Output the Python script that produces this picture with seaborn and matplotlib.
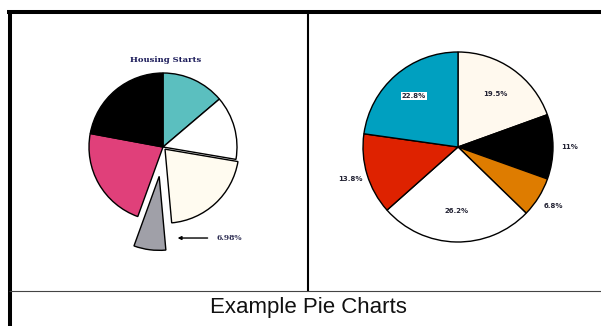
import matplotlib
matplotlib.use("Agg")
import matplotlib.pyplot as plt
import seaborn as sns
import numpy as np

# left pie: "Housing Starts" shares (%), clockwise from 12 o'clock
left_shares = [13.8, 13.9, 20.9, 6.98, 22.4, 22.1]
left_colors = ['#5bbfbf', '#ffffff', '#fffbf0', '#a0a0a8', '#e0407a', '#000000']
left_explode = [0, 0, 0.04, 0.4, 0, 0]
left_callout = '6.98%'

# right pie
right_shares = [19.5, 11, 6.8, 26.2, 13.8, 22.8]
right_labels = ['19.5%', '11%', '6.8%', '26.2%', '13.8%', '22.8%']
right_colors = ['#fff9ee', '#000000', '#de7c00', '#ffffff', '#de2200', '#00a0c0']
right_label_dist = [0.68, 1.18, 1.18, 0.67, 1.18, 0.71]

caption = 'Example Pie Charts'

sns.set_theme(style='white')
plt.rcParams['font.family'] = ['DejaVu Sans']

W, H = 601, 326
fig = plt.figure(figsize=(W / 100, H / 100), dpi=100)
fig.patch.set_facecolor('white')

# background axes in pixel coordinates for the table frame
bg = fig.add_axes([0, 0, 1, 1])
bg.set_xlim(0, W)
bg.set_ylim(H, 0)
bg.axis('off')
bg.plot([9.5, 9.5], [10, H], color='black', lw=2.9, solid_capstyle='butt')
bg.plot([7, W], [12, 12], color='black', lw=2.9, solid_capstyle='butt')
bg.plot([307.5, 307.5], [12, 291], color='black', lw=1.5, solid_capstyle='butt')
bg.plot([9, W], [291, 291], color='#444444', lw=0.8, solid_capstyle='butt')


def px_axes(cx, cy, r, k):
    half = r * k
    ax = fig.add_axes([(cx - half) / W, (H - cy - half) / H, 2 * half / W, 2 * half / H])
    return ax


# ---- left pie
k1 = 1.6
ax1 = px_axes(163, 147, 74, k1)
w1, _ = ax1.pie(left_shares, colors=left_colors, explode=left_explode, startangle=90,
                counterclock=False, wedgeprops=dict(edgecolor='black', linewidth=1.0))
ax1.set_xlim(-k1, k1)
ax1.set_ylim(-k1, k1)
ax1.set_aspect('equal')
ax1.axis('off')
ax1.text(0.03, 1.18, 'Housing Starts', ha='center', va='center', fontsize=6,
         fontweight='bold', family='DejaVu Serif', color='#1c1c5a')
ax1.annotate('', xy=(0.16, -1.23), xytext=(0.64, -1.23),
             arrowprops=dict(arrowstyle='-|>', color='black', lw=1.0, mutation_scale=5))
ax1.text(0.89, -1.23, left_callout, ha='center', va='center', fontsize=5.5,
         fontweight='bold', family='DejaVu Serif', color='#2a2a50')

# ---- right pie
k2 = 1.4
ax2 = px_axes(458, 147, 95, k2)
w2, _ = ax2.pie(right_shares, colors=right_colors, startangle=90, counterclock=False,
                wedgeprops=dict(edgecolor='black', linewidth=1.0))
ax2.set_xlim(-k2, k2)
ax2.set_ylim(-k2, k2)
ax2.set_aspect('equal')
ax2.axis('off')
for i, (wd, lab) in enumerate(zip(w2, right_labels)):
    mid = np.deg2rad((wd.theta1 + wd.theta2) / 2)
    d = right_label_dist[i]
    bbox = dict(facecolor='white', edgecolor='none', pad=0.6) if i == 5 else None
    ax2.text(d * np.cos(mid), d * np.sin(mid), lab, ha='center', va='center',
             fontsize=5, fontweight='bold', color='#222233', bbox=bbox)

fig.text(308 / W, 1 - 308 / H, caption, ha='center', va='center', fontsize=16,
         family='Liberation Sans', color='#111111')

fig.savefig('out.png', dpi=100)
